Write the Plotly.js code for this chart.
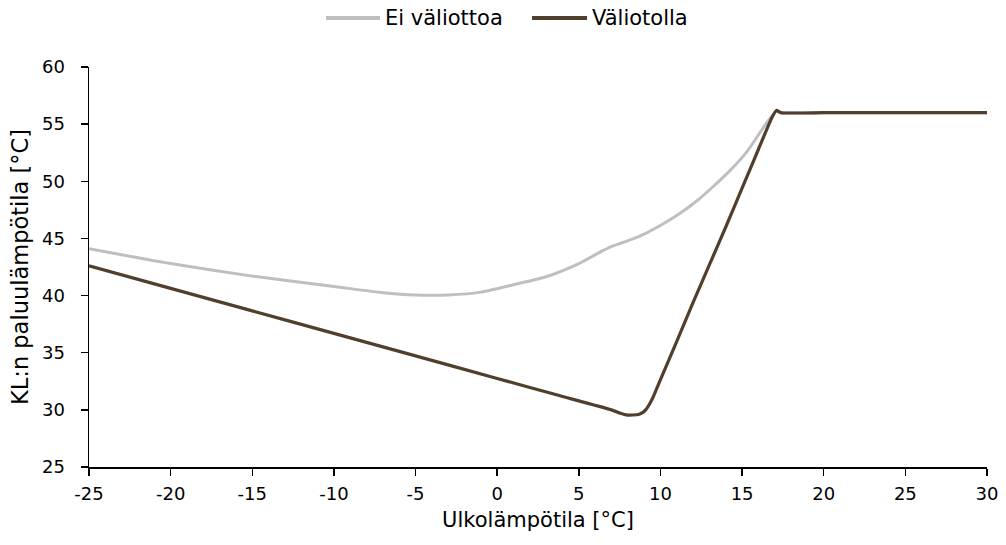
<!DOCTYPE html>
<html>
<head>
<meta charset="utf-8">
<script src="https://cdn.plot.ly/plotly-3.0.1.min.js"></script>
<style>html,body{margin:0;padding:0;background:#fff;}#chart{width:1006px;height:545px;}</style>
</head>
<body>
<div id="chart"></div>
<script>
// Ei väliottoa (grey)
const xNoTap = [-25, -20, -15, -10, -7, -5, -3, -1, 1, 3, 5, 6.5, 7.1, 7.5, 8.1, 9.1, 10.2, 11.2, 12.2, 13.2, 14.3, 15.3, 16.5, 17.1, 17.3, 20, 25, 30];
const yNoTap = [44.1, 42.8, 41.7, 40.8, 40.25, 40.05, 40.05, 40.3, 40.95, 41.65, 42.8, 43.95, 44.35, 44.55, 44.85, 45.45, 46.3, 47.2, 48.25, 49.5, 51.0, 52.6, 55.1, 56.15, 56.0, 56.0, 56.0, 56.0];
// Väliotolla (brown)
const xTap = [-25, -20, -15, -10, -5, 0, 3.8, 7, 7.5, 7.9, 8.3, 8.7, 8.95, 9.15, 9.35, 9.56, 10, 11, 12, 13, 14, 15, 16, 16.8, 17.1, 17.4, 20, 25, 30];
const yTap = [42.6, 40.63, 38.66, 36.69, 34.72, 32.75, 31.25, 30.0, 29.72, 29.56, 29.55, 29.62, 29.8, 30.1, 30.55, 31.15, 32.65, 36.0, 39.4, 42.7, 46.0, 49.4, 52.8, 55.5, 56.2, 56.0, 56.0, 56.0, 56.0];

const seriesNames = ['Ei väliottoa', 'Väliotolla'];
const seriesColors = ['#BFBFBF', '#4F3F2C'];

const xTicks = [-25, -20, -15, -10, -5, 0, 5, 10, 15, 20, 25, 30];
const yTicks = [25, 30, 35, 40, 45, 50, 55, 60];

const font = "DejaVu Sans, Verdana, sans-serif";

const traces = [
  {x: xNoTap, y: yNoTap, name: seriesNames[0], type: 'scatter', mode: 'lines',
   line: {color: seriesColors[0], width: 3, shape: 'spline', smoothing: 0.6}},
  {x: xTap, y: yTap, name: seriesNames[1], type: 'scatter', mode: 'lines',
   line: {color: seriesColors[1], width: 3.2, shape: 'spline', smoothing: 0.4}}
];

// Legend drawn with layout shapes/annotations (paper coords) to match the long legend lines
const legendY = 1.1225;
const legendItems = [
  {x0: 0.2639, x1: 0.3241, tx: 0.3274},
  {x0: 0.4933, x1: 0.5546, tx: 0.5579}
];
const shapes = legendItems.map((it, i) => ({
  type: 'line', xref: 'paper', yref: 'paper', x0: it.x0, x1: it.x1, y0: legendY, y1: legendY,
  line: {color: seriesColors[i], width: 4}
}));
const annotations = legendItems.map((it, i) => ({
  xref: 'paper', yref: 'paper', x: it.tx, y: legendY, xanchor: 'left', yanchor: 'middle',
  text: seriesNames[i], showarrow: false, font: {family: font, size: 21, color: '#000'}
}));

const layout = {
  width: 1006, height: 545,
  margin: {l: 89, r: 19, t: 67, b: 78},
  paper_bgcolor: '#fff', plot_bgcolor: '#fff',
  font: {family: font, size: 18, color: '#000'},
  showlegend: false,
  shapes: shapes,
  annotations: annotations,
  xaxis: {range: [-25, 30], tickvals: xTicks, ticktext: xTicks.map(String),
          showgrid: false, zeroline: false, showline: true, linecolor: '#000', linewidth: 1.5,
          ticks: 'outside', ticklen: 7, tickcolor: '#000', tickwidth: 1.5, ticklabelstandoff: 3,
          tickfont: {family: font, size: 18},
          title: {text: 'Ulkolämpötila [°C]', font: {family: font, size: 21}, standoff: 9}},
  yaxis: {range: [25, 60], tickvals: yTicks, ticktext: yTicks.map(String),
          showgrid: false, zeroline: false, showline: true, linecolor: '#000', linewidth: 1.5,
          ticks: 'outside', ticklen: 7, tickcolor: '#000', tickwidth: 1.5, ticklabelstandoff: 12,
          tickfont: {family: font, size: 18},
          title: {text: 'KL:n paluulämpötila [°C]', font: {family: font, size: 22.5}, standoff: 7}}
};

Plotly.newPlot('chart', traces, layout, {displayModeBar: false, staticPlot: true});
</script>
</body>
</html>
